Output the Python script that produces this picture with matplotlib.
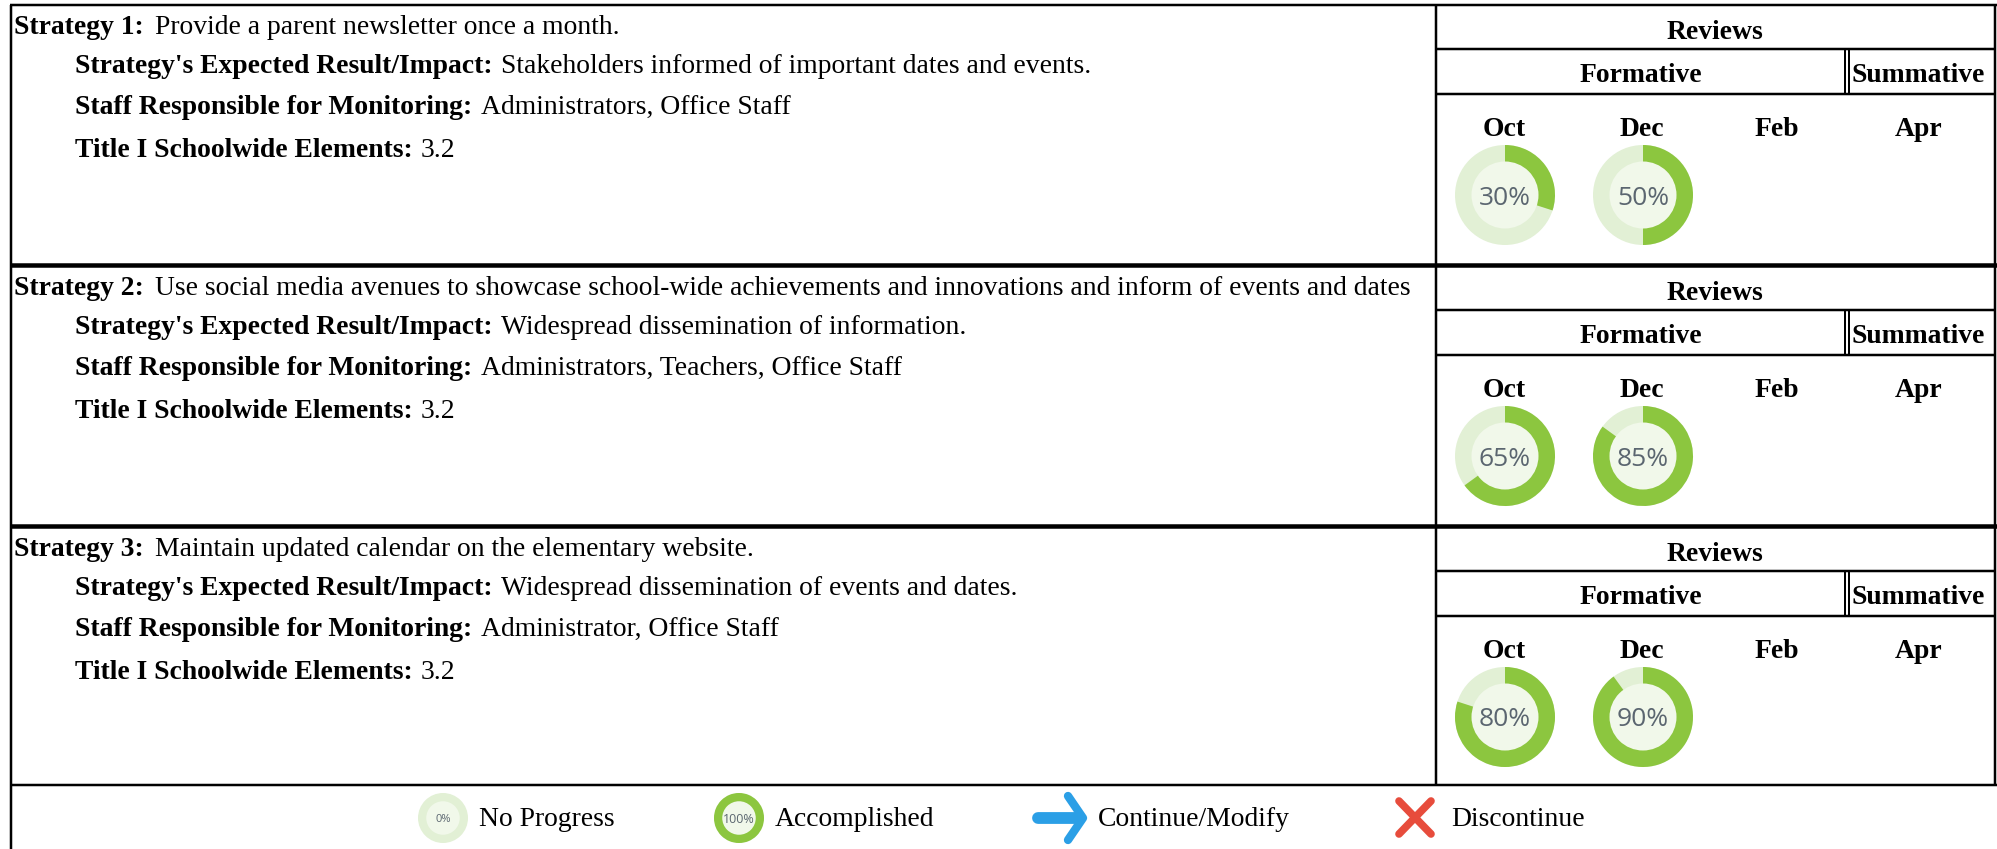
import matplotlib
matplotlib.use('Agg')
import matplotlib.pyplot as plt
from matplotlib.patches import Circle, Wedge

plt.rcParams['font.family'] = ['Liberation Serif', 'DejaVu Serif']

# table content
strategies = ['Provide a parent newsletter once a month.',
              'Use social media avenues to showcase school-wide achievements and innovations and inform of events and dates',
              'Maintain updated calendar on the elementary website.']
impacts = ['Stakeholders informed of important dates and events.',
           'Widespread dissemination of information.',
           'Widespread dissemination of events and dates.']
staff = ['Administrators, Office Staff',
         'Administrators, Teachers, Office Staff',
         'Administrator, Office Staff']
elements = ['3.2', '3.2', '3.2']
months = ['Oct', 'Dec', 'Feb', 'Apr']
oct_pct = [30, 65, 80]
dec_pct = [50, 85, 90]
legend_labels = ['No Progress', 'Accomplished', 'Continue/Modify', 'Discontinue']

W, H = 1997, 849
FS = 19.9
GREEN = '#8cc63f'
PALE = '#e2f0d5'
CENTRE = '#f1f8ea'
TXT = '#000000'

fig = plt.figure(figsize=(W / 100, H / 100), dpi=100)
ax = fig.add_axes([0, 0, 1, 1])
ax.set_xlim(0, W)
ax.set_ylim(H, 0)
ax.axis('off')
renderer = fig.canvas.get_renderer()


def hline(y, x0, x1, lw=2.0):
    ax.plot([x0, x1], [y, y], color='black', lw=lw * 0.72, solid_capstyle='butt')


def vline(x, y0, y1, lw=2.0):
    ax.plot([x, x], [y0, y1], color='black', lw=lw * 0.72, solid_capstyle='butt')


def runs(x, y, bold, plain, gap=8):
    t = ax.text(x, y, bold, fontsize=FS, fontweight='bold', color=TXT, va='baseline')
    box = t.get_window_extent(renderer)
    ax.text(box.x1 + gap, y, plain, fontsize=FS, color=TXT, va='baseline')


def donut(cx, cy, r, pct, size, hole=0.67):
    ax.add_patch(Circle((cx, cy), r, fc=PALE, ec='none'))
    if pct > 0:
        # y axis is flipped so angles run clockwise from the top
        ax.add_patch(Wedge((cx, cy), r, -90, -90 + 3.6 * pct, fc=GREEN, ec='none'))
    ax.add_patch(Circle((cx, cy), r * hole, fc=CENTRE, ec='none'))
    ax.text(cx, cy, '%d%%' % pct, fontsize=size, color='#5b6670', ha='center',
            va='center_baseline', family='Open Sans')


# outer frame and separators
hline(5, 10, W, 2.5)
vline(11.5, 5, H, 2.5)
vline(1995.5, 5, 785, 2.5)
vline(1436, 5, 785, 2.5)
hline(265, 10, W, 4.5)
hline(526, 10, W, 4.5)
hline(785, 10, W, 2.5)

col_x = [1504, 1642, 1777, 1919]
for i in range(3):
    dy = 261 * i
    runs(14, 34 + dy, 'Strategy %d:' % (i + 1), strategies[i], gap=11)
    runs(75, 73 + dy, "Strategy's Expected Result/Impact:", impacts[i])
    runs(75, 114 + dy, 'Staff Responsible for Monitoring:', staff[i], gap=9)
    runs(75, 157 + dy, 'Title I Schoolwide Elements:', elements[i])

    hline(49 + dy, 1436, 1996, 2.5)
    hline(94 + dy, 1436, 1996, 2.5)
    vline(1845, 49 + dy, 94 + dy, 2)
    vline(1849, 49 + dy, 94 + dy, 2)
    ax.text(1715, 39 + dy, 'Reviews', fontsize=FS, fontweight='bold', ha='center')
    ax.text(1641, 82 + dy, 'Formative', fontsize=FS, fontweight='bold', ha='center')
    ax.text(1918, 82 + dy, 'Summative', fontsize=FS, fontweight='bold', ha='center')
    for x, m in zip(col_x, months):
        ax.text(x, 136 + dy, m, fontsize=FS, fontweight='bold', ha='center')
    donut(col_x[0] + 1, 195 + dy, 50, oct_pct[i], 19)
    donut(col_x[1] + 1, 195 + dy, 50, dec_pct[i], 19)

# legend row
donut(443, 818, 25, 0, 8)
donut(739, 818, 25, 100, 9)
ax.text(479, 826, legend_labels[0], fontsize=FS)
ax.text(775, 826, legend_labels[1], fontsize=FS)
ax.text(1098, 826, legend_labels[2], fontsize=FS)
ax.text(1451, 826, legend_labels[3], fontsize=FS)

# arrow
ax.plot([1038, 1080], [818, 818], color='#2b9fe6', lw=8.5, solid_capstyle='round')
ax.plot([1068, 1083, 1068], [796, 818, 840], color='#2b9fe6', lw=6, solid_capstyle='round',
        solid_joinstyle='round')
# cross
ax.plot([1399, 1431], [801, 834], color='#e74c3c', lw=5.5, solid_capstyle='round')
ax.plot([1431, 1399], [801, 834], color='#e74c3c', lw=5.5, solid_capstyle='round')

fig.savefig('out.png', dpi=100, facecolor='white')
